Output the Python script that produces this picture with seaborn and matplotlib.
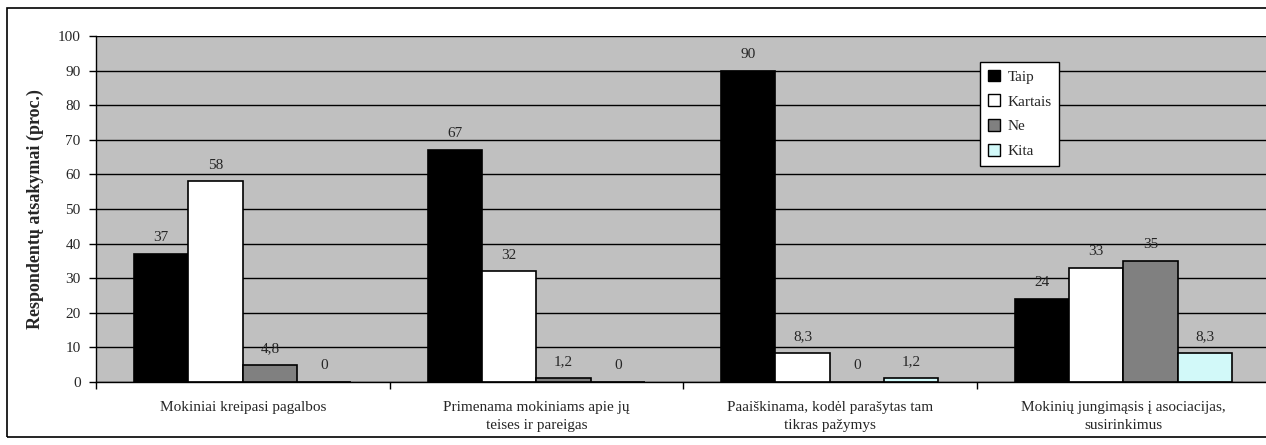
import pandas as pd
import matplotlib.pyplot as plt
import seaborn as sns
from matplotlib.patches import Rectangle

categories = ["Mokiniai kreipasi pagalbos",
              "Primenama mokiniams apie jų\nteises ir pareigas",
              "Paaiškinama, kodėl parašytas tam\ntikras pažymys",
              "Mokinių jungimąsis į asociacijas,\nsusirinkimus"]
responses = ["Taip", "Kartais", "Ne", "Kita"]
taip = [37, 67, 90, 24]
kartais = [58, 32, 8.3, 33]
ne = [4.8, 1.2, 0, 35]
kita = [0, 0, 1.2, 8.3]
colors = ["#000000", "#FFFFFF", "#808080", "#CCFFFF"]

rows = []
for resp, vals in zip(responses, [taip, kartais, ne, kita]):
    for cat, v in zip(categories, vals):
        rows.append({"cat": cat, "resp": resp, "val": v})
df = pd.DataFrame(rows)

sns.set_style("white")
plt.rcParams["font.family"] = ["Liberation Serif", "DejaVu Serif"]

fig = plt.figure(figsize=(12.66, 4.45), dpi=100)
ax = fig.add_axes([96 / 1266, 1 - 382 / 445, 1174 / 1266, 346 / 445])
ax.set_facecolor("#C0C0C0")

sns.barplot(data=df, x="cat", y="val", hue="resp", order=categories,
            hue_order=responses, palette=colors, width=0.74,
            edgecolor="black", linewidth=1.2, ax=ax)

for cont in ax.containers:
    labs = [f"{b.get_height():g}".replace(".", ",") for b in cont]
    ax.bar_label(cont, labels=labs, padding=7, fontsize=11)

ax.set_ylim(0, 100)
ax.set_xlim(-0.5, 3.5)
ax.set_yticks(range(0, 101, 10))
ax.yaxis.grid(True, color="black", linewidth=1)
ax.set_axisbelow(True)
ax.tick_params(axis="y", direction="out", length=5, width=1, color="black",
               labelsize=11, left=True, pad=6)
ax.tick_params(axis="x", length=0, labelsize=11, pad=14)
ax.set_xticks(range(4))
ax.set_xticklabels(categories, linespacing=1.5)
ax.set_xticks([-0.5, 0.5, 1.5, 2.5, 3.5], minor=True)
ax.tick_params(axis="x", which="minor", direction="out", length=5, width=1,
               color="black", bottom=True)
ax.set_xlabel("")
ax.set_ylabel("Respondentų atsakymai (proc.)", fontsize=13, fontweight="bold",
              labelpad=10)
for s in ["top", "right"]:
    ax.spines[s].set_visible(False)
for s in ["left", "bottom"]:
    ax.spines[s].set_color("black")
    ax.spines[s].set_linewidth(1)

leg = ax.legend(loc="upper left", bbox_to_anchor=(0.753, 0.925), frameon=True,
                fancybox=False, edgecolor="black", fontsize=11, framealpha=1,
                handlelength=0.8, handleheight=0.8, handletextpad=0.5,
                labelspacing=0.7, borderpad=0.5, borderaxespad=0)
leg.get_frame().set_linewidth(1)
for h in leg.legend_handles:
    h.set_edgecolor("black")
    h.set_linewidth(1)

fig.patches.append(Rectangle((7 / 1266, 1 - 437 / 445), 1.1, 429 / 445,
                             transform=fig.transFigure, fill=False,
                             edgecolor="black", linewidth=1.2))

fig.savefig("out.png", dpi=100)
